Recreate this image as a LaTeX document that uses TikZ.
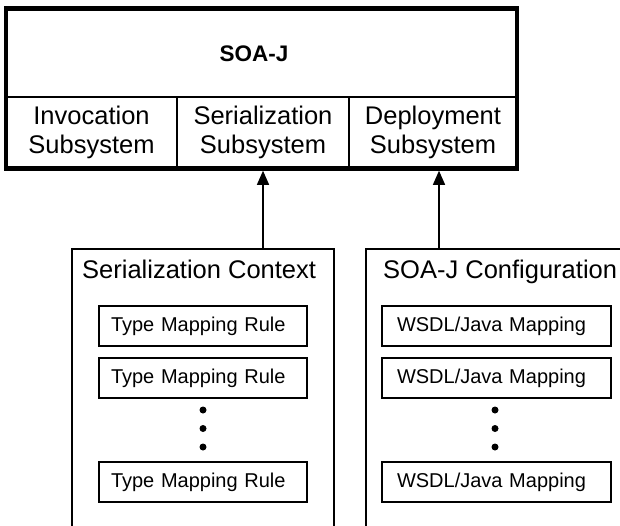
\documentclass[tikz,border=0pt]{standalone}
\usepackage{fontspec}
\setmainfont{Liberation Sans}
\usetikzlibrary{arrows.meta}
\begin{document}
\begin{tikzpicture}[x=1pt,y=-1pt,
  thinln/.style={line width=1.2pt},
  bigtext/.style={font=\fontsize{25.5}{29}\selectfont},
  cell/.style={bigtext, align=center, inner sep=0pt},
  lrule/.style={draw, thinln, font=\fontsize{20}{24}\selectfont, text width=184pt, inner xsep=12pt, inner ysep=0pt, minimum height=40pt, align=left},
  rrule/.style={draw, thinln, font=\fontsize{20}{24}\selectfont, text width=199pt, inner xsep=15pt, inner ysep=0pt, minimum height=40pt, align=left},
  dot/.style={circle, fill, inner sep=0pt, minimum size=7pt},
  uparrow/.style={thinln, -{Triangle[length=14pt, width=12pt]}}]
\useasboundingbox (0,0) rectangle (620,525);
% main box
\node[draw, line width=4.5pt, minimum width=511pt, minimum height=160pt, inner sep=0pt] (main) at (261.5,88.5) {};
\node[font=\fontsize{22.5}{26}\selectfont\bfseries] (title) at (254,54) {SOA-J};
\draw[thinln] (6,97) -- (517,97);
\draw[thinln] (177,97) -- (177,168.5);
\draw[thinln] (349,97) -- (349,168.5);
\node[cell] (inv) at (91.5,132) {Invocation\\Subsystem};
\node[cell] (ser) at (263,132) {Serialization\\Subsystem};
\node[cell] (dep) at (433,132) {Deployment\\Subsystem};
% open boxes
\draw[thinln] (72,526) -- (72,249) -- (334,249) -- (334,526);
\draw[thinln] (366,526) -- (366,249) -- (621,249);
\coordinate (ctxtop) at (263,249);
\coordinate (cfgtop) at (439,249);
\node[bigtext, anchor=base west, inner sep=0pt] (ctx) at (82,278) {Serialization Context};
\node[bigtext, anchor=base west, inner sep=0pt] (cfg) at (383,278) {SOA-J Configuration};
% arrows
\draw[uparrow] (ctxtop) -- (ctxtop |- main.south);
\draw[uparrow] (cfgtop) -- (cfgtop |- main.south);
% left rules
\node[lrule] (l1) at (203,326) {Type Mapping Rule};
\node[lrule] (l2) at (203,378) {Type Mapping Rule};
\node[lrule] (l3) at (203,482) {Type Mapping Rule};
\node[dot] (ld1) at (203,410) {};
\node[dot] (ld2) at (203,428.5) {};
\node[dot] (ld3) at (203,447) {};
% right rules
\node[rrule] (r1) at (496.5,326) {WSDL/Java Mapping};
\node[rrule] (r2) at (496.5,378) {WSDL/Java Mapping};
\node[rrule] (r3) at (496.5,482) {WSDL/Java Mapping};
\node[dot] (rd1) at (495,410) {};
\node[dot] (rd2) at (495,428.5) {};
\node[dot] (rd3) at (495,447) {};
\end{tikzpicture}
\end{document}
